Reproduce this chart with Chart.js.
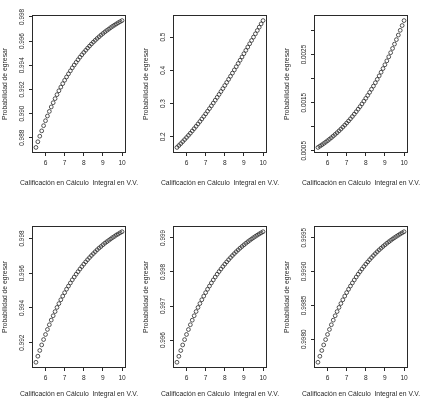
<!DOCTYPE html>
<html>
<head>
<meta charset="utf-8">
<script src="https://cdn.jsdelivr.net/npm/chart.js@4.4.1/dist/chart.umd.min.js"></script>
<style>
  html, body { margin: 0; padding: 0; background: #fff; }
  #lienzo { position: relative; width: 422px; height: 404px; overflow: hidden; }
  canvas { position: absolute; }
</style>
</head>
<body>
<div id="lienzo">
  <canvas id="p1" width="141" height="202" style="left:0px;top:0px"></canvas>
  <canvas id="p2" width="141" height="202" style="left:141px;top:0px"></canvas>
  <canvas id="p3" width="140" height="202" style="left:282px;top:0px"></canvas>
  <canvas id="p4" width="141" height="202" style="left:0px;top:202px"></canvas>
  <canvas id="p5" width="141" height="202" style="left:141px;top:202px"></canvas>
  <canvas id="p6" width="140" height="202" style="left:282px;top:202px"></canvas>
</div>
<script>
// calificación en cálculo integral (eje x), igual para los seis paneles
const calificacion = [5.5, 5.6, 5.7, 5.8, 5.9, 6.0, 6.1, 6.2, 6.3, 6.4, 6.5, 6.6, 6.7, 6.8, 6.9,
  7.0, 7.1, 7.2, 7.3, 7.4, 7.5, 7.6, 7.7, 7.8, 7.9, 8.0, 8.1, 8.2, 8.3, 8.4, 8.5, 8.6, 8.7, 8.8,
  8.9, 9.0, 9.1, 9.2, 9.3, 9.4, 9.5, 9.6, 9.7, 9.8, 9.9, 10.0];
const xTicks = [6, 7, 8, 9, 10];

// probabilidad de egresar, un arreglo por panel
const prob1 = [0.98720, 0.98767, 0.98813, 0.98857, 0.98900, 0.98941, 0.98980, 0.99018, 0.99055,
  0.99090, 0.99124, 0.99157, 0.99189, 0.99219, 0.99248, 0.99276, 0.99303, 0.99329, 0.99354,
  0.99379, 0.99402, 0.99424, 0.99446, 0.99467, 0.99487, 0.99506, 0.99524, 0.99542, 0.99559,
  0.99576, 0.99592, 0.99607, 0.99622, 0.99636, 0.99650, 0.99663, 0.99676, 0.99688, 0.99699,
  0.99711, 0.99722, 0.99732, 0.99742, 0.99752, 0.99761, 0.99770];
const prob2 = [0.16798, 0.17366, 0.17943, 0.18542, 0.19155, 0.19782, 0.20424, 0.21080, 0.21756,
  0.22444, 0.23148, 0.23866, 0.24600, 0.25350, 0.26115, 0.26894, 0.27689, 0.28497, 0.29318,
  0.30154, 0.31003, 0.31866, 0.32740, 0.33626, 0.34522, 0.35434, 0.36354, 0.37286, 0.38224,
  0.39173, 0.40131, 0.41097, 0.42068, 0.43046, 0.44026, 0.45017, 0.46008, 0.47000, 0.48000,
  0.49000, 0.50000, 0.51000, 0.52000, 0.53000, 0.53992, 0.54983];
const prob3 = [0.000570, 0.000596, 0.000622, 0.000650, 0.000679, 0.000709, 0.000740, 0.000772,
  0.000806, 0.000841, 0.000876, 0.000914, 0.000952, 0.000992, 0.001033, 0.001076, 0.001120,
  0.001166, 0.001213, 0.001262, 0.001312, 0.001365, 0.001418, 0.001474, 0.001531, 0.001590,
  0.001651, 0.001714, 0.001779, 0.001845, 0.001914, 0.001984, 0.002057, 0.002132, 0.002209,
  0.002288, 0.002369, 0.002453, 0.002539, 0.002627, 0.002717, 0.002810, 0.002905, 0.003003,
  0.003103, 0.003206];
const prob4 = [0.99087, 0.99122, 0.99155, 0.99187, 0.99218, 0.99247, 0.99276, 0.99303, 0.99330,
  0.99355, 0.99379, 0.99403, 0.99425, 0.99447, 0.99468, 0.99488, 0.99508, 0.99526, 0.99544,
  0.99562, 0.99578, 0.99594, 0.99609, 0.99624, 0.99638, 0.99652, 0.99665, 0.99678, 0.99690,
  0.99702, 0.99713, 0.99724, 0.99735, 0.99745, 0.99754, 0.99764, 0.99773, 0.99781, 0.99789,
  0.99797, 0.99805, 0.99812, 0.99820, 0.99826, 0.99833, 0.99839];
const prob5 = [0.995350, 0.995526, 0.995695, 0.995858, 0.996015, 0.996166, 0.996311, 0.996451,
  0.996585, 0.996715, 0.996839, 0.996959, 0.997074, 0.997185, 0.997291, 0.997394, 0.997493,
  0.997587, 0.997679, 0.997767, 0.997851, 0.997933, 0.998011, 0.998086, 0.998159, 0.998228,
  0.998295, 0.998360, 0.998422, 0.998482, 0.998539, 0.998595, 0.998648, 0.998699, 0.998748,
  0.998796, 0.998841, 0.998885, 0.998927, 0.998968, 0.999007, 0.999045, 0.999081, 0.999116,
  0.999149, 0.999181];
const prob6 = [0.997660, 0.997749, 0.997834, 0.997916, 0.997995, 0.998071, 0.998144, 0.998214,
  0.998282, 0.998347, 0.998409, 0.998470, 0.998528, 0.998583, 0.998637, 0.998689, 0.998738,
  0.998786, 0.998832, 0.998876, 0.998919, 0.998960, 0.998999, 0.999037, 0.999073, 0.999109,
  0.999142, 0.999175, 0.999206, 0.999236, 0.999265, 0.999293, 0.999320, 0.999345, 0.999370,
  0.999394, 0.999417, 0.999439, 0.999460, 0.999481, 0.999500, 0.999519, 0.999537, 0.999555,
  0.999572, 0.999588];

// marcas del eje y y sus etiquetas ('' = marca sin texto)
const yTicks1 = [0.988, 0.990, 0.992, 0.994, 0.996, 0.998];
const yLabels1 = ["0.988", "0.990", "0.992", "0.994", "0.996", "0.998"];
const yTicks2 = [0.2, 0.3, 0.4, 0.5];
const yLabels2 = ["0.2", "0.3", "0.4", "0.5"];
const yTicks3 = [0.0005, 0.0010, 0.0015, 0.0020, 0.0025, 0.0030];
const yLabels3 = ["0.0005", "", "0.0015", "", "0.0025", ""];
const yTicks4 = [0.992, 0.994, 0.996, 0.998];
const yLabels4 = ["0.992", "0.994", "0.996", "0.998"];
const yTicks5 = [0.996, 0.997, 0.998, 0.999];
const yLabels5 = ["0.996", "0.997", "0.998", "0.999"];
const yTicks6 = [0.9980, 0.9985, 0.9990, 0.9995];
const yLabels6 = ["0.9980", "0.9985", "0.9990", "0.9995"];

const tituloX = "Calificación en Cálculo  Integral en V.V.";
const tituloY = "Probabilidad de egresar";

const tinta = "#2a2a2a";
const fuente = "'Liberation Sans', Arial, sans-serif";

// caja completa, etiquetas del eje y giradas y título x sin comprimir (como en R)
const marcoR = {
  id: "marcoR",
  afterDraw(chart, args, opts) {
    const { ctx, chartArea: a } = chart;
    const y = chart.scales.y;
    ctx.save();
    ctx.strokeStyle = tinta;
    ctx.lineWidth = 1;
    ctx.strokeRect(a.left, a.top, a.right - a.left, a.bottom - a.top);
    ctx.fillStyle = tinta;
    ctx.font = "6.4px " + fuente;
    ctx.textAlign = "center";
    ctx.textBaseline = "middle";
    opts.ticks.forEach((v, i) => {
      const lab = opts.labels[i];
      if (!lab) return;
      const py = y.getPixelForValue(v);
      ctx.save();
      ctx.translate(a.left - 10, py);
      ctx.rotate(-Math.PI / 2);
      ctx.fillText(lab, 0, 0);
      ctx.restore();
    });
    ctx.font = "6.8px " + fuente;
    ctx.fillText(tituloX, (a.left + a.right) / 2, opts.tituloY);
    ctx.restore();
  }
};

function panel(id, ys, yTicks, yLabels, fila) {
  const ymin = Math.min(...ys), ymax = Math.max(...ys);
  const ext = (ymax - ymin) * 0.04;
  const xext = (calificacion[calificacion.length - 1] - calificacion[0]) * 0.04;
  const arriba = fila === 0;
  const w = document.getElementById(id).width;
  new Chart(document.getElementById(id), {
    type: "scatter",
    data: {
      datasets: [{
        data: calificacion.map((x, i) => ({ x: x, y: ys[i] })),
        pointStyle: "circle",
        pointRadius: 1.9,
        pointBorderWidth: 0.8,
        borderColor: tinta,
        backgroundColor: "rgba(0,0,0,0)",
        pointHoverRadius: 1.9
      }]
    },
    options: {
      responsive: false,
      animation: false,
      events: [],
      layout: {
        padding: {
          left: 1.5,
          top: arriba ? 15.5 : 24.5,
          right: w - 125.5,
          bottom: arriba ? 14.8 : 5.5
        }
      },
      plugins: {
        legend: { display: false },
        tooltip: { enabled: false },
        marcoR: { ticks: yTicks, labels: yLabels, tituloY: arriba ? 183 : 192.5 }
      },
      scales: {
        x: {
          type: "linear",
          min: calificacion[0] - xext,
          max: calificacion[calificacion.length - 1] + xext,
          afterBuildTicks: (ax) => { ax.ticks = xTicks.map(v => ({ value: v })); },
          afterFit: (ax) => { ax.height = arriba ? 34.7 : 31; },
          border: { display: false },
          grid: { display: true, drawOnChartArea: false, drawTicks: true, tickLength: 3.5, color: tinta, lineWidth: 1 },
          ticks: { color: tinta, font: { family: fuente, size: 6.6 }, padding: 3.5, maxRotation: 0, autoSkip: false },
          title: { display: false }
        },
        y: {
          type: "linear",
          min: ymin - ext,
          max: ymax + ext,
          afterBuildTicks: (ax) => { ax.ticks = yTicks.map(v => ({ value: v })); },
          afterFit: (ax) => { ax.width = 31; },
          border: { display: false },
          grid: { display: true, drawOnChartArea: false, drawTicks: true, tickLength: 3.5, color: tinta, lineWidth: 1 },
          ticks: { display: false },
          title: { display: true, text: tituloY, color: tinta, font: { family: fuente, size: 6.8 }, padding: 0 }
        }
      }
    },
    plugins: [marcoR]
  });
}

panel("p1", prob1, yTicks1, yLabels1, 0);
panel("p2", prob2, yTicks2, yLabels2, 0);
panel("p3", prob3, yTicks3, yLabels3, 0);
panel("p4", prob4, yTicks4, yLabels4, 1);
panel("p5", prob5, yTicks5, yLabels5, 1);
panel("p6", prob6, yTicks6, yLabels6, 1);
</script>
</body>
</html>
